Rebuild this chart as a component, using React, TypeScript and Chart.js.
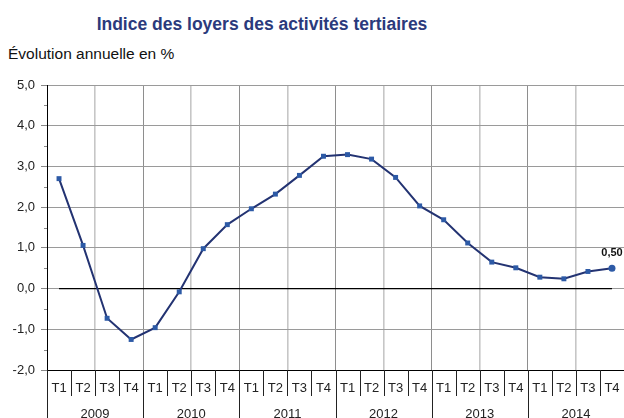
import React, { useEffect, useRef } from "react";
import { Chart, registerables } from "chart.js";

Chart.register(...registerables);

const years = ["2009", "2010", "2011", "2012", "2013", "2014"];
const quarters = ["T1", "T2", "T3", "T4"];
const categories = years.flatMap((y) => quarters.map((q) => `${q} ${y}`));
const ilatValues = [
  2.7, 1.06, -0.73, -1.25,
  -0.96, -0.08, 0.98, 1.57,
  1.96, 2.32, 2.78, 3.25,
  3.29, 3.18, 2.73, 2.03,
  1.69, 1.12, 0.65, 0.51,
  0.28, 0.24, 0.42, 0.5,
];
const zeroLine = categories.map(() => 0);
const yMin = -2;
const yMax = 5;

const FONT = "'Liberation Sans', Arial, sans-serif";

const fmt = (v: number, d: number) => v.toFixed(d).replace(".", ",");

const decorPlugin = {
  id: "decor",
  afterDraw(chart: any) {
    const ctx = chart.ctx;
    const x = chart.scales.x;
    const y = chart.scales.y;
    const area = chart.chartArea;
    const H = chart.height;
    ctx.save();
    // minor ticks on y axis
    ctx.strokeStyle = "#888";
    ctx.lineWidth = 1;
    y.ticks.forEach((t: any) => {
      const v = t.value + 0.5;
      if (v < yMax) {
        const py = Math.round(y.getPixelForValue(v)) + 0.5;
        ctx.beginPath();
        ctx.moveTo(area.left - 3, py);
        ctx.lineTo(area.left, py);
        ctx.stroke();
      }
    });
    // category boxes
    const w = x.getPixelForValue(1) - x.getPixelForValue(0);
    ctx.strokeStyle = "#222";
    ctx.fillStyle = "#222";
    ctx.font = `13px ${FONT}`;
    ctx.textAlign = "center";
    ctx.textBaseline = "middle";
    categories.forEach((c, i) => {
      const px = x.getPixelForValue(i);
      const left = Math.round(px - w / 2) + 0.5;
      const isYear = i % 4 === 0;
      ctx.beginPath();
      ctx.moveTo(left, area.bottom);
      ctx.lineTo(left, isYear ? H : area.bottom + 26);
      ctx.stroke();
      ctx.fillText(quarters[i % 4], px, area.bottom + 18);
    });
    years.forEach((yr, k) => {
      const px = (x.getPixelForValue(k * 4) + x.getPixelForValue(k * 4 + 3)) / 2;
      ctx.fillText(yr, px, area.bottom + 44);
    });
    // last value label
    const meta = chart.getDatasetMeta(0);
    const last = meta.data[meta.data.length - 1];
    ctx.font = `bold 11px ${FONT}`;
    ctx.textBaseline = "alphabetic";
    ctx.fillStyle = "#111";
    ctx.fillText(fmt(ilatValues[ilatValues.length - 1], 2), last.x, last.y - 12);
    ctx.restore();
  },
};

export default function App() {
  const ref = useRef<HTMLCanvasElement | null>(null);
  useEffect(() => {
    document.body.style.margin = "0";
    if (!ref.current) return;
    const n = categories.length;
    const chart = new Chart(ref.current, {
      type: "line",
      data: {
        labels: categories,
        datasets: [
          {
            data: ilatValues,
            borderColor: "#233372",
            borderWidth: 2,
            backgroundColor: "#2d5aa6",
            pointBackgroundColor: "#2d5aa6",
            pointBorderColor: "#2d5aa6",
            pointBorderWidth: 0,
            pointStyle: (ctx: any) => (ctx.dataIndex === n - 1 ? "circle" : "rect"),
            pointRadius: 3.5,
            tension: 0,
            order: 0,
          },
          {
            data: zeroLine,
            borderColor: "#000",
            borderWidth: 1.3,
            pointRadius: 0,
            order: 1,
          },
        ],
      },
      options: {
        animation: false,
        responsive: false,
        layout: { padding: { top: 85, left: 0, right: 0, bottom: 0 } },
        plugins: { legend: { display: false }, tooltip: { enabled: false }, title: { display: false } },
        scales: {
          x: {
            type: "category",
            offset: true,
            afterFit: (s: any) => {
              s.height = 48;
            },
            ticks: { display: false },
            border: { display: true, color: "#000", width: 1 },
            grid: {
              offset: true,
              drawTicks: false,
              color: (ctx: any) => {
                const i = ctx.index;
                if (i >= n || i === 0) return "rgba(0,0,0,0)";
                if (i % 4 === 0) return "#8e8e8e";
                if (i % 2 === 0) return "#c6c6c6";
                return "rgba(0,0,0,0)";
              },
              lineWidth: (ctx: any) => (ctx.index % 4 === 2 ? 1.6 : 1),
            },
          },
          y: {
            min: yMin,
            max: yMax,
            afterFit: (s: any) => {
              s.width = 47;
            },
            ticks: {
              stepSize: 1,
              padding: 6,
              color: "#222",
              font: { family: FONT, size: 13 },
              callback: (v: any) => fmt(Number(v), 1),
            },
            border: { display: true, color: "#000", width: 1 },
            grid: {
              color: "#9a9a9a",
              tickColor: "#888",
              tickLength: 6,
            },
          },
        },
      },
      plugins: [decorPlugin],
    } as any);
    return () => chart.destroy();
  }, []);
  return (
    <div style={{ position: "relative", width: 624, height: 418, overflow: "hidden", background: "#fff" }}>
      <div
        style={{
          position: "absolute",
          left: 0,
          width: 524,
          top: 15,
          textAlign: "center",
          fontFamily: FONT,
          fontWeight: "bold",
          fontSize: "17.5px",
          lineHeight: "18px",
          color: "#2b3a7c",
          whiteSpace: "nowrap",
        }}
      >
        Indice des loyers des activités tertiaires
      </div>
      <div
        style={{
          position: "absolute",
          left: 8,
          top: 46,
          fontFamily: FONT,
          fontSize: "15.5px",
          lineHeight: "15.5px",
          color: "#111",
          whiteSpace: "nowrap",
        }}
      >
        Évolution annuelle en %
      </div>
      <canvas ref={ref} width={628} height={418} style={{ position: "absolute", left: 0, top: 0 }} />
    </div>
  );
}
